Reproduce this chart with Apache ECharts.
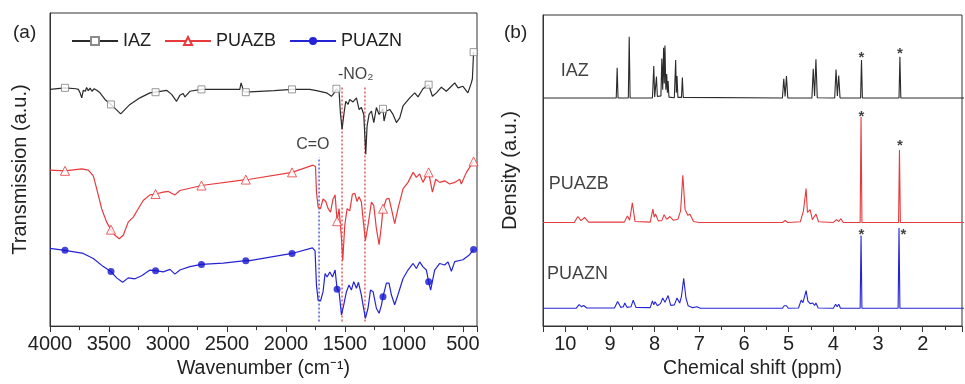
<!DOCTYPE html>
<html>
<head>
<meta charset="utf-8">
<title>FTIR and 1H NMR of IAZ, PUAZB, PUAZN</title>
<script src="https://cdn.jsdelivr.net/npm/echarts@6.0.0/dist/echarts.min.js"></script>
<style>
  html, body { margin: 0; padding: 0; background: #fff; }
  #chart { width: 965px; height: 384px; }
</style>
</head>
<body>
<div id="chart"></div>
<script>
// (a) FTIR spectra, [wavenumber cm-1, transmission offset (a.u.)]
const irIAZ = [[4000,75.6],[3873,76.1],[3780,75.8],[3760,75.6],[3745,74.5],[3731,72.9],[3718,75.3],[3700,75.0],[3690,76.2],[3675,75.2],[3660,76.0],[3645,75.0],[3625,75.8],[3604,75.3],[3576,74.5],[3534,72.4],[3483,70.8],[3401,67.8],[3322,70.8],[3238,72.9],[3153,74.5],[3105,74.7],[3012,75.3],[2969,74.0],[2927,71.8],[2899,73.7],[2871,74.3],[2856,73.2],[2814,75.0],[2716,75.6],[2600,75.6],[2391,75.6],[2380,77.7],[2370,76.5],[2360,75.0],[2340,74.7],[2306,74.8],[2100,75.2],[1948,75.6],[1798,75.6],[1741,75.2],[1656,74.5],[1614,73.4],[1590,74.5],[1572,75.8],[1549,74.8],[1538,68.1],[1524,62.9],[1507,68.1],[1493,71.8],[1473,70.8],[1459,72.4],[1431,71.6],[1402,72.9],[1380,69.2],[1360,69.8],[1340,67.6],[1323,54.9],[1312,63.9],[1295,67.6],[1275,68.7],[1255,65.0],[1233,69.8],[1210,67.6],[1177,69.4],[1168,65.5],[1148,68.7],[1120,69.2],[1092,67.6],[1063,65.0],[1035,66.5],[1007,70.3],[950,72.9],[908,74.5],[880,73.2],[838,75.8],[790,77.1],[758,73.4],[724,74.5],[682,76.3],[640,75.0],[597,76.6],[569,77.7],[541,76.1],[499,76.6],[457,74.5],[428,77.7],[419,79.0],[409,87.5]];
const irPUAZB = [[4000,49.8],[3873,49.6],[3731,50.2],[3675,49.8],[3633,48.0],[3604,43.8],[3562,37.5],[3520,33.2],[3483,30.8],[3449,29.0],[3413,27.9],[3379,29.0],[3337,33.2],[3294,34.8],[3252,37.5],[3210,40.1],[3153,41.9],[3105,42.2],[3040,42.8],[2997,43.0],[2941,41.9],[2899,43.3],[2842,43.8],[2716,44.9],[2340,46.8],[2306,46.9],[1948,49.1],[1770,51.4],[1749,51.0],[1741,42.8],[1727,38.0],[1707,37.5],[1685,40.6],[1662,39.8],[1642,37.5],[1622,36.4],[1600,40.6],[1583,41.9],[1566,33.5],[1549,37.5],[1529,27.9],[1518,21.0],[1501,32.2],[1481,37.5],[1459,36.8],[1436,42.2],[1416,42.4],[1397,39.8],[1380,41.3],[1360,39.6],[1346,34.3],[1326,27.4],[1304,32.2],[1275,39.6],[1255,38.5],[1233,31.1],[1210,26.0],[1190,32.2],[1177,37.5],[1148,40.6],[1126,40.8],[1106,37.5],[1078,32.7],[1050,37.5],[1007,43.8],[965,45.9],[922,49.1],[894,47.5],[866,48.6],[838,45.9],[809,48.0],[790,49.1],[758,42.8],[730,46.9],[696,45.9],[654,46.4],[612,45.4],[569,45.9],[527,46.9],[513,45.4],[470,49.1],[409,52.6]];
const irPUAZN = [[4000,24.8],[3873,24.2],[3718,23.2],[3633,21.6],[3548,19.0],[3483,17.4],[3435,15.4],[3384,14.0],[3337,15.4],[3280,15.1],[3223,16.1],[3153,17.9],[3105,17.7],[3040,17.3],[2983,18.1],[2941,16.6],[2899,17.9],[2814,19.0],[2716,19.7],[2532,20.1],[2340,20.9],[2306,20.9],[1948,23.2],[1775,25.0],[1753,24.0],[1741,13.1],[1727,8.3],[1707,8.0],[1685,11.0],[1668,16.8],[1651,15.7],[1628,17.3],[1605,15.7],[1583,17.9],[1566,11.8],[1549,10.8],[1529,3.6],[1510,6.7],[1487,11.0],[1465,13.1],[1445,11.5],[1425,14.2],[1402,12.1],[1385,14.0],[1360,9.9],[1346,6.7],[1326,2.5],[1304,5.7],[1283,11.5],[1261,11.0],[1233,5.7],[1210,4.1],[1190,6.7],[1177,9.4],[1148,13.7],[1126,13.7],[1106,10.0],[1078,6.8],[1050,10.0],[1007,15.2],[965,17.9],[922,20.0],[894,18.4],[866,20.5],[838,18.9],[809,17.9],[790,14.2],[773,11.5],[739,17.9],[696,20.0],[654,19.5],[626,20.5],[597,17.5],[569,20.6],[499,21.2],[443,22.8],[409,24.5]];

// symbols drawn along each FTIR curve
const irIAZMarks = [[3873,76.1],[3483,70.8],[3105,74.7],[2716,75.6],[2340,74.7],[1948,75.6],[1572,75.8],[1177,69.4],[790,77.1],[409,87.5]];
const irPUAZBMarks = [[3873,49.6],[3483,30.8],[3105,42.2],[2716,44.9],[2340,46.8],[1948,49.1],[1566,33.5],[1177,37.5],[790,49.1],[409,52.6]];
const irPUAZNMarks = [[3873,24.2],[3483,17.4],[3105,17.7],[2716,19.7],[2340,20.9],[1948,23.2],[1566,11.8],[1177,9.4],[790,14.2],[409,24.5]];

// band guides and their labels
const irGuideCO = [[1719,1.5],[1719,53.9]];
const irGuideNO2a = [[1524,1.5],[1524,76.6]];
const irGuideNO2b = [[1330,1.5],[1330,76.6]];
const irNotes = [[1772,58.1,'C=O'],[1408,80.3,'-NO₂']];

// (b) 1H NMR spectra, [chemical shift ppm, density offset (a.u.)]
const nmrIAZ = [[10.5,73.3],[8.86,73.3],[8.84,83.0],[8.82,73.3],[8.59,73.3],[8.57,93.0],[8.55,73.3],[8.05,73.3],[8.02,83.6],[8.0,73.6],[7.96,80.2],[7.94,73.8],[7.86,74.0],[7.84,86.0],[7.82,76.0],[7.80,89.5],[7.785,78.0],[7.77,90.2],[7.75,76.0],[7.73,81.0],[7.715,75.0],[7.70,78.8],[7.68,73.6],[7.56,73.4],[7.53,85.5],[7.515,75.0],[7.50,80.4],[7.48,73.5],[7.40,73.5],[7.38,79.9],[7.36,73.5],[7.33,73.3],[5.14,73.3],[5.11,79.5],[5.08,73.8],[5.05,80.4],[5.02,73.3],[4.48,73.3],[4.45,82.7],[4.42,74.0],[4.39,85.8],[4.36,73.4],[3.97,73.3],[3.94,82.5],[3.91,74.0],[3.88,80.5],[3.85,73.3],[3.39,73.3],[3.37,85.5],[3.35,73.3],[2.53,73.3],[2.51,86.6],[2.49,73.3],[2.02,73.3],[2.0,73.8],[1.98,73.3],[1.0,73.3]];
const nmrPUAZB = [[10.5,33.3],[9.80,33.3],[9.72,35.2],[9.65,33.9],[9.57,34.9],[9.48,33.4],[8.68,33.4],[8.61,35.4],[8.56,34.0],[8.50,39.6],[8.44,33.6],[8.10,33.4],[8.04,37.6],[8.01,35.0],[7.98,36.0],[7.92,33.8],[7.84,33.9],[7.79,35.8],[7.73,34.3],[7.66,35.2],[7.58,34.0],[7.48,34.3],[7.42,37.0],[7.37,48.5],[7.32,37.5],[7.26,35.6],[7.21,35.9],[7.13,33.6],[7.00,33.3],[5.14,33.3],[5.08,33.9],[5.02,33.3],[4.74,33.5],[4.67,37.0],[4.64,37.5],[4.61,44.2],[4.58,36.5],[4.52,37.4],[4.47,34.2],[4.39,36.0],[4.33,33.5],[4.0,33.3],[3.93,34.2],[3.88,33.6],[3.83,34.5],[3.78,33.3],[3.40,33.3],[3.38,67.2],[3.36,33.3],[2.54,33.3],[2.52,56.6],[2.50,33.3],[1.0,33.3]];
const nmrPUAZN = [[10.5,5.7],[9.76,5.7],[9.69,6.9],[9.64,6.2],[9.59,6.6],[9.52,5.8],[8.90,5.8],[8.83,7.9],[8.76,6.0],[8.70,6.2],[8.67,7.4],[8.62,6.0],[8.53,6.2],[8.48,8.3],[8.42,6.0],[8.10,5.9],[8.05,8.1],[8.02,6.8],[7.99,7.8],[7.94,6.5],[7.87,7.2],[7.82,9.0],[7.77,7.6],[7.70,9.8],[7.64,6.6],[7.56,6.8],[7.50,9.0],[7.44,7.4],[7.40,9.5],[7.35,15.3],[7.30,9.0],[7.25,6.5],[7.15,5.9],[7.05,6.2],[6.98,5.7],[5.14,5.7],[5.10,6.5],[5.075,6.0],[5.05,6.5],[5.01,5.7],[4.78,5.8],[4.72,8.3],[4.68,7.5],[4.61,11.4],[4.57,8.0],[4.52,7.2],[4.46,7.4],[4.42,6.6],[4.39,7.4],[4.34,5.8],[4.0,5.7],[3.95,7.0],[3.915,6.2],[3.88,7.0],[3.84,5.7],[3.40,5.7],[3.38,29.1],[3.36,5.7],[2.55,5.7],[2.53,31.5],[2.51,5.7],[1.0,5.7]];

// solvent marks (*) and spectrum names
const nmrStars = [[3.37,86.3],[2.51,87.4],[3.37,67.3],[2.51,58.0],[3.37,29.2],[2.43,29.2]];
const nmrNames = [[9.79,81.9,'IAZ'],[9.70,45.7,'PUAZB'],[9.73,16.8,'PUAZN']];

const FONT = 'Liberation Sans, Arial, sans-serif';
const INK = '#222';
const C_IAZ = '#2b2b2b', C_B = '#e63a3c', C_N = '#2424d6';

let chart = echarts.init(document.getElementById('chart'), null, { renderer: 'canvas' });

function xAxisBase(grid) {
    return {
        type: 'value',
        gridIndex: grid,
        inverse: true,
        nameLocation: 'middle',
        nameTextStyle: { fontSize: 19.5, color: INK },
        axisLine: { lineStyle: { color: '#333', width: 1 } },
        axisTick: { show: true, inside: false, length: 6, lineStyle: { color: '#333' } },
        minorTick: { show: true, splitNumber: 2, length: 4, lineStyle: { color: '#333' } },
        splitLine: { show: false },
        minorSplitLine: { show: false }
    }
}
function yAxisBase(grid, name, gap) {
    return {
        type: 'value',
        gridIndex: grid,
        min: 0,
        max: 100,
        name: name,
        nameLocation: 'middle',
        nameGap: gap,
        nameTextStyle: { fontSize: 20, color: INK },
        axisLine: { show: true, lineStyle: { color: '#333' } },
        axisTick: { show: false },
        axisLabel: { show: false },
        splitLine: { show: false }
    }
}
function scatterLabels(grid, rows, size, weight) {
    return {
        type: 'scatter',
        xAxisIndex: grid, yAxisIndex: grid,
        symbolSize: 0,
        silent: true,
        z: 5,
        label: { show: true, position: 'inside', formatter: p => p.name, fontSize: size, fontWeight: weight || 'normal', color: '#111' },
        data: rows.map(r => ({ name: r[2], value: [r[0], r[1]] }))
    }
}
function guide(data, color) {
    return {
        type: 'line', xAxisIndex: 0, yAxisIndex: 0, data: data,
        symbol: 'none', silent: true, z: 1,
        lineStyle: { color: color, width: 1.5, type: [2, 2] }
    }
}

let options = {
    animation: false,
    backgroundColor: '#fff',
    textStyle: { fontFamily: FONT },
    title: [
        { text: '(a)', left: 8, top: 18, textStyle: { fontSize: 19, fontWeight: 'normal', color: INK } },
        { text: '(b)', left: 499, top: 18, textStyle: { fontSize: 19, fontWeight: 'normal', color: INK } }
    ],
    legend: {
        data: [
            { name: 'IAZ', itemStyle: { color: '#8a8a8a' } },
            { name: 'PUAZB' },
            { name: 'PUAZN' }
        ],
        left: 66, top: 27,
        itemWidth: 46, itemHeight: 10, itemGap: 13,
        textStyle: { fontSize: 18, color: INK }
    },
    grid: [
        { left: 50, right: 488, top: 13, bottom: 56, show: true, borderColor: '#333', borderWidth: 1 },
        // panel (b) is cut by the right edge of the picture, near 1.1 ppm
        { left: 543, right: 0, top: 15, bottom: 54, show: true, borderColor: '#333', borderWidth: 1 }
    ],
    xAxis: [
        Object.assign(xAxisBase(0), {
            min: 380, max: 4000, splitNumber: 7, minInterval: 500, maxInterval: 500,
            name: 'Wavenumber (cm⁻¹)', nameGap: 29,
            axisLabel: { fontSize: 20, color: INK, margin: 8, formatter: v => (v % 500 === 0 ? v : '') }
        }),
        Object.assign(xAxisBase(1), {
            min: 1.12, max: 10.5, splitNumber: 9, minInterval: 1, maxInterval: 1,
            name: 'Chemical shift (ppm)', nameGap: 33,
            axisLabel: { fontSize: 20, color: INK, margin: 8, formatter: v => (Number.isInteger(v) ? v : '') }
        })
    ],
    yAxis: [
        yAxisBase(0, 'Transmission (a.u.)', 20),
        yAxisBase(1, 'Density (a.u.)', 23)
    ],
    series: [
        guide(irGuideCO, '#5a5ad8'),
        guide(irGuideNO2a, '#e25a5a'),
        guide(irGuideNO2b, '#e25a5a'),
        {
            name: 'IAZ', type: 'line', xAxisIndex: 0, yAxisIndex: 0, data: irIAZ,
            symbol: 'emptyRect', showSymbol: false, color: C_IAZ,
            lineStyle: { width: 1.2, color: C_IAZ }, z: 2
        },
        {
            name: 'PUAZB', type: 'line', xAxisIndex: 0, yAxisIndex: 0, data: irPUAZB,
            symbol: 'emptyTriangle', showSymbol: false, color: C_B,
            lineStyle: { width: 1.2, color: C_B }, z: 2
        },
        {
            name: 'PUAZN', type: 'line', xAxisIndex: 0, yAxisIndex: 0, data: irPUAZN,
            symbol: 'circle', showSymbol: false, color: C_N,
            lineStyle: { width: 1.2, color: C_N }, z: 2
        },
        {
            type: 'scatter', xAxisIndex: 0, yAxisIndex: 0, data: irIAZMarks, silent: true, z: 3,
            symbol: 'rect', symbolSize: 7,
            itemStyle: { color: '#fff', borderColor: '#808080', borderWidth: 1 }
        },
        {
            type: 'scatter', xAxisIndex: 0, yAxisIndex: 0, data: irPUAZBMarks, silent: true, z: 3,
            symbol: 'triangle', symbolSize: 9,
            itemStyle: { color: '#fff', borderColor: C_B, borderWidth: 1 }
        },
        {
            type: 'scatter', xAxisIndex: 0, yAxisIndex: 0, data: irPUAZNMarks, silent: true, z: 3,
            symbol: 'circle', symbolSize: 7,
            itemStyle: { color: '#1515d0' }
        },
        scatterLabels(0, irNotes, 16),
        // NMR traces
        {
            type: 'line', xAxisIndex: 1, yAxisIndex: 1, data: nmrIAZ, symbol: 'none', silent: true,
            lineStyle: { width: 1.1, color: C_IAZ }
        },
        {
            type: 'line', xAxisIndex: 1, yAxisIndex: 1, data: nmrPUAZB, symbol: 'none', silent: true,
            lineStyle: { width: 1.1, color: C_B }
        },
        {
            type: 'line', xAxisIndex: 1, yAxisIndex: 1, data: nmrPUAZN, symbol: 'none', silent: true,
            lineStyle: { width: 1.1, color: C_N }
        },
        scatterLabels(1, nmrStars.map(s => [s[0], s[1], '*']), 15, 'bold'),
        scatterLabels(1, nmrNames, 18)
    ]
};
chart.setOption(options);
window.addEventListener('resize', function () {
    chart.resize()
})
</script>
</body>
</html>
